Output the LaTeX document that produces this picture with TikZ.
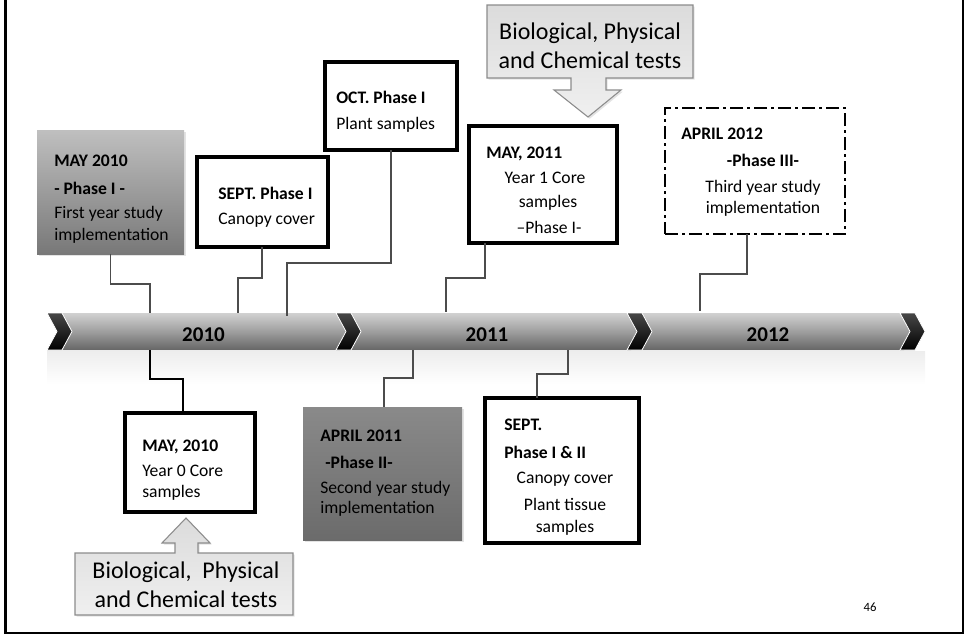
\documentclass[tikz,border=0pt]{standalone}
\usepackage{fontspec}
\setmainfont{Carlito}
\usetikzlibrary{shadows,fit}
\begin{document}
\begin{tikzpicture}[x=0.75pt,y=-0.75pt,
 conn/.style={draw=black!70,line width=0.9pt},
 connk/.style={draw=black,line width=1.4pt},
 boxbase/.style={inner sep=0pt,outer sep=0pt},
 shd/.style={drop shadow={opacity=0.22,shadow xshift=1.3pt,shadow yshift=-1.3pt}},
 wbox/.style={boxbase,draw=black,line width=2.4pt,fill=white,shd},
 gbox/.style={boxbase,top color=black!25,bottom color=black!53,shd},
 dgbox/.style={boxbase,top color=black!46,bottom color=black!58,shd},
 dbox/.style={boxbase,draw=black,line width=1.7pt,dash pattern=on 10pt off 3pt on 2pt off 3pt,fill=white},
 tx/.style={inner sep=0pt,anchor=base west,font=\fontsize{13.2}{15}\selectfont},
 txb/.style={tx,font=\fontsize{13.2}{15}\selectfont\bfseries},
 txc/.style={tx,anchor=base},
 txbc/.style={txb,anchor=base},
 big/.style={inner sep=0pt,anchor=base,font=\fontsize{18}{21}\selectfont},
 year/.style={inner sep=0pt,anchor=base,font=\fontsize{15.75}{18}\selectfont\bfseries},
 segm/.style={top color=black!18,bottom color=black!60,middle color=black!38},
 chev/.style={top color=black!72,bottom color=black,draw=white,line width=0.6pt},
 callout/.style={top color=black!14,bottom color=black!6,draw=black!45,line width=0.8pt,shd}
]
\useasboundingbox (0,0) rectangle (968,639);
% page frame
\draw[line width=2.2pt] (5.5,-5) -- (5.5,633) -- (963,633) -- (963,-5);

% timeline reflection
\shade[top color=black!7,bottom color=white] (47,351) rectangle (925,384);
% timeline segments
\path[segm] (62,313) -- (340,313) -- (350,331.5) -- (340,350) -- (62,350) -- (72,331.5) -- cycle;
\path[segm] (351,313) -- (631,313) -- (641,331.5) -- (631,350) -- (351,350) -- (361,331.5) -- cycle;
\path[segm] (642,313) -- (904,313) -- (914,331.5) -- (904,350) -- (642,350) -- (652,331.5) -- cycle;
% chevrons
\path[chev] (47,313) -- (62,313) -- (72,331.5) -- (62,350) -- (47,350) -- (57,331.5) -- cycle;
\path[chev] (336,313) -- (351,313) -- (361,331.5) -- (351,350) -- (336,350) -- (346,331.5) -- cycle;
\path[chev] (627,313) -- (642,313) -- (652,331.5) -- (642,350) -- (627,350) -- (637,331.5) -- cycle;
\path[chev] (900,313) -- (915,313) -- (925,331.5) -- (915,350) -- (900,350) -- (910,331.5) -- cycle;
\node[year] (y10) at (203.5,341.5) {2010};
\node[year] (y11) at (487,341.5) {2011};
\node[year] (y12) at (768,341.5) {2012};

% callout arrows
\path[callout] (487,5) -- (693,5) -- (693,78) -- (606,78) -- (606,90) -- (621,90) -- (588,117) -- (554,90) -- (571,90) -- (571,78) -- (487,78) -- cycle;
\node[big] (T1) at (590,39) {Biological, Physical};
\node[big] (T2) at (590,68) {and Chemical tests};
\path[callout] (75,553) -- (175,553) -- (175,543) -- (162,543) -- (186,518) -- (210,543) -- (198,543) -- (198,553) -- (293,553) -- (293,615) -- (75,615) -- cycle;
\node[big] (U1) at (186,578) {Biological,\ \ Physical};
\node[big] (U2) at (186,607) {and Chemical tests};

% boxes
\node[gbox,fit={(37,130)(184,254)}] (A) {};
\node[wbox,fit={(197,157)(328,247)}] (B) {};
\node[wbox,fit={(325,62)(457,150)}] (C) {};
\node[wbox,fit={(469,126)(617,243)}] (D) {};
\node[dbox,fit={(665,108)(845,234)}] (E) {};
\node[wbox,fit={(125,413)(255,512)}] (F) {};
\node[dgbox,fit={(303,407)(462,540)}] (G) {};
\node[wbox,fit={(485,398)(639,543)}] (H) {};

% texts
\node[txb] (A1) at (54,166) {MAY 2010};
\node[txb] (A2) at (54,194) {- Phase I -};
\node[tx]  (A3) at (54,218) {First year study};
\node[tx]  (A4) at (54,240) {implementation};

\node[txb] (B1) at (218,199) {SEPT. Phase I};
\node[tx]  (B2) at (218,224) {Canopy cover};

\node[txb] (C1) at (336,103) {OCT. Phase I};
\node[tx]  (C2) at (336,129) {Plant samples};

\node[txb] (D1) at (486,158) {MAY, 2011};
\node[txc] (D2) at (545,183) {Year 1 Core};
\node[txc] (D3) at (548,207) {samples};
\node[txc] (D4) at (549,233) {--Phase I-};

\node[txb]  (E1) at (681,139) {APRIL 2012};
\node[txbc] (E2) at (763,166) {-Phase III-};
\node[txc]  (E3) at (763,192) {Third year study};
\node[txc]  (E4) at (763,213) {implementation};

\node[txb] (F1) at (142,451) {MAY, 2010};
\node[tx]  (F2) at (142,476) {Year 0 Core};
\node[tx]  (F3) at (142,497) {samples};

\node[txb] (G1) at (320,441) {APRIL 2011};
\node[txb] (G2) at (325,468) {-Phase II-};
\node[tx]  (G3) at (320,493) {Second year study};
\node[tx]  (G4) at (320,513) {implementation};

\node[txb] (H1) at (504,430) {SEPT.};
\node[txb] (H2) at (504,458) {Phase I \& II};
\node[txc] (H3) at (565,483) {Canopy cover};
\node[txc] (H4) at (565,510) {Plant tissue};
\node[txc] (H5) at (565,532) {samples};

\node[inner sep=0pt,anchor=base,font=\fontsize{9.5}{11}\selectfont] (pg) at (870,611) {46};

% connector coordinates
\coordinate (cA) at (110.5,0); \coordinate (eA) at (150,284); \coordinate (tA) at (150,313);
\coordinate (cB) at (262,0);   \coordinate (eB) at (238,278); \coordinate (tB) at (238,313);
\coordinate (cC) at (391,0);   \coordinate (eC) at (287,263); \coordinate (tC) at (287,316);
\coordinate (cD) at (485,0);   \coordinate (eD) at (446,278); \coordinate (tD) at (446,312);
\coordinate (cE) at (747,0);   \coordinate (eE) at (700,274); \coordinate (tE) at (700,311);
\coordinate (tF) at (150,350); \coordinate (eF) at (183,379);
\coordinate (tG) at (413,350); \coordinate (eG) at (384,378);
\coordinate (tH) at (568,350); \coordinate (eH) at (537,374);

\draw[conn] (A.south -| cA) |- (eA) -- (tA);
\draw[conn] (B.south -| cB) |- (eB) -- (tB);
\draw[conn] (C.south -| cC) |- (eC) -- (tC);
\draw[conn] (D.south -| cD) |- (eD) -- (tD);
\draw[conn] (E.south -| cE) |- (eE) -- (tE);
\draw[connk] (tF) |- (eF) -- (F.north -| eF);
\draw[conn] (tG) |- (eG) -- (G.north -| eG);
\draw[conn] (tH) |- (eH) -- (H.north -| eH);
\end{tikzpicture}
\end{document}
